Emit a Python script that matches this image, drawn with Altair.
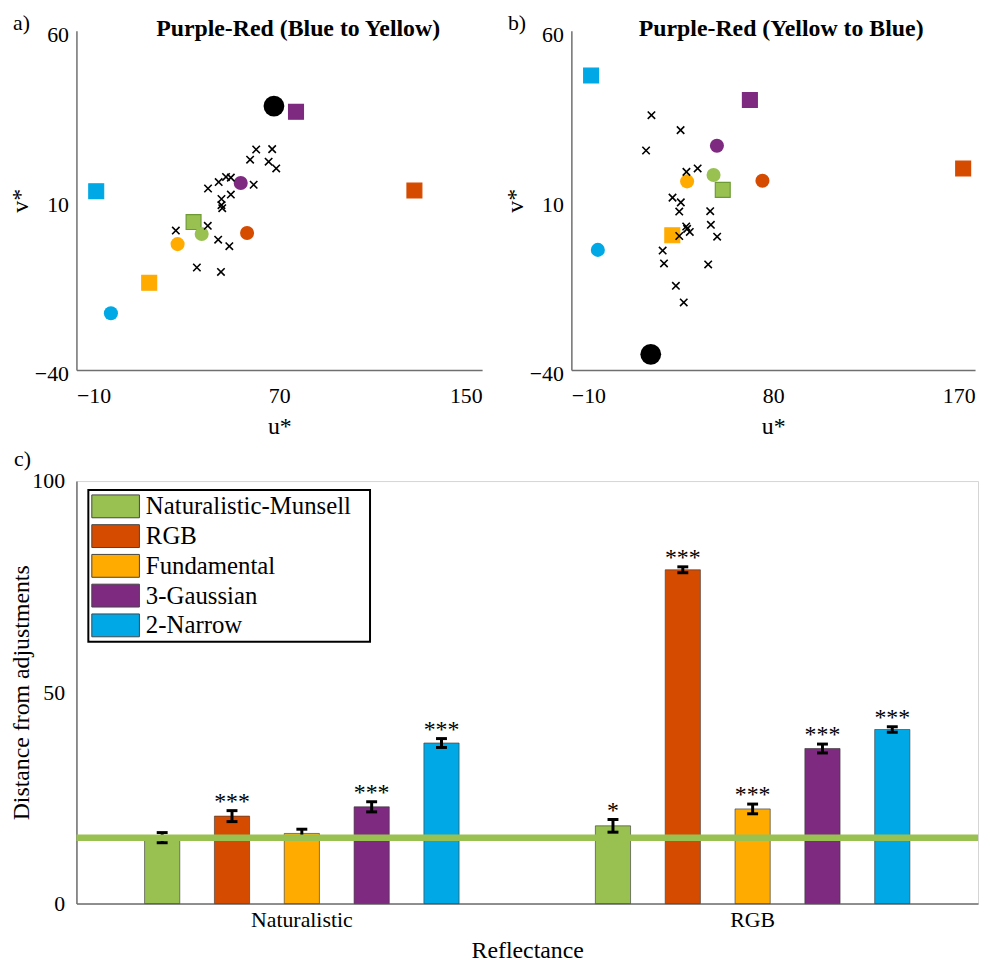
import altair as alt
import pandas as pd

FONT = "Liberation Serif"

MODELS = ["Naturalistic-Munsell", "RGB", "Fundamental", "3-Gaussian", "2-Narrow"]
COLORS = ["#99C152", "#D54B00", "#FFAB00", "#7E2A80", "#00A8E6"]
EDGES = ["#6E9A34", "#D54B00", "#FFAB00", "#7E2A80", "#00A8E6"]

# ---------------- panel a : Purple-Red (Blue to Yellow) ----------------
A_CIRCLE_U = [39.4, 57.3, 29.9, 54.8, 3.6]
A_CIRCLE_V = [0.1, 0.4, -2.9, 15.1, -23.3]
A_SQUARE_U = [36.2, 123.3, 18.7, 76.6, -2.2]
A_SQUARE_V = [3.6, 12.9, -14.3, 36.1, 12.7]
A_BLACK_U = [67.9]
A_BLACK_V = [37.8]
A_CROSS_U = [60.9, 67.2, 58.5, 65.8, 68.8, 49.0, 50.9, 46.1, 41.9, 59.9,
             50.9, 47.2, 47.2, 47.5, 29.2, 41.8, 45.9, 50.3, 37.5, 47.0]
A_CROSS_V = [25.0, 25.1, 22.0, 21.4, 19.4, 16.9, 16.7, 15.4, 13.5, 14.6,
             11.7, 10.4, 8.6, 7.7, 1.1, 2.5, -1.6, -3.5, -9.8, -11.1]

# ---------------- panel b : Purple-Red (Yellow to Blue) ----------------
B_CIRCLE_U = [53.4, 75.2, 41.6, 54.9, 1.8]
B_CIRCLE_V = [17.5, 15.8, 15.6, 26.1, -4.6]
B_SQUARE_U = [57.5, 164.7, 35.0, 69.6, -1.2]
B_SQUARE_V = [13.1, 19.4, -0.3, 39.6, 46.8]
B_BLACK_U = [25.4]
B_BLACK_V = [-35.4]
B_CROSS_U = [25.7, 38.7, 23.3, 41.3, 46.3, 35.1, 38.8, 38.1, 51.9, 52.2,
             41.2, 41.6, 42.8, 38.1, 55.0, 30.7, 31.3, 51.0, 36.6, 40.1]
B_CROSS_V = [35.1, 30.7, 24.7, 18.4, 19.4, 10.8, 9.4, 6.7, 6.8, 2.8,
             2.3, 1.6, 0.7, -0.5, -0.7, -4.8, -8.6, -8.9, -15.2, -20.1]

V_TICKS = [-40, 10, 60]
A_U_TICKS = [-10, 70, 150]
B_U_TICKS = [-10, 80, 170]

# ---------------- panel c : bars ----------------
GROUPS = ["Naturalistic", "RGB"]
NAT_MEAN = [15.6, 20.7, 16.6, 22.9, 38.0]
NAT_ERR = [1.2, 1.3, 1.0, 1.2, 1.05]
NAT_STARS = ["", "***", "", "***", "***"]
RGB_MEAN = [18.4, 79.0, 22.4, 36.7, 41.2]
RGB_ERR = [1.5, 0.7, 1.15, 1.05, 0.65]
RGB_STARS = ["*", "***", "***", "***", "***"]
REF_LINE = [15.6]
C_TICKS = [0, 50, 100]

AX_GRAY = "#6f6f6f"


def scatter_panel(cu, cv, su, sv, bu, bv, xu, xv, uticks, title, tdx, letter, width):
    circ = pd.DataFrame({"model": MODELS, "u": cu, "v": cv})
    sq = pd.DataFrame({"model": MODELS, "u": su, "v": sv})
    blk = pd.DataFrame({"u": bu, "v": bv})
    crs = pd.DataFrame({"u": xu, "v": xv})
    lab = pd.DataFrame({"t": [letter]})

    xenc = alt.X("u:Q",
                 scale=alt.Scale(domain=[uticks[0], uticks[-1]], nice=False, zero=False),
                 axis=alt.Axis(values=uticks, title="u*", labelFlush=True,
                               labelPadding=16, titlePadding=8))
    yenc = alt.Y("v:Q",
                 scale=alt.Scale(domain=[V_TICKS[0], V_TICKS[-1]], nice=False, zero=False),
                 axis=alt.Axis(values=V_TICKS, title="v*", labelOffset=4,
                               labelPadding=8, titlePadding=2))
    fill = alt.Fill("model:N", scale=alt.Scale(domain=MODELS, range=COLORS), legend=None)
    stroke = alt.Stroke("model:N", scale=alt.Scale(domain=MODELS, range=EDGES), legend=None)

    squares = alt.Chart(sq).mark_square(size=225, filled=True, opacity=1,
                                        strokeWidth=1.2).encode(
        x=xenc, y=yenc, fill=fill, stroke=stroke)
    circles = alt.Chart(circ).mark_circle(size=201, opacity=1).encode(
        x=xenc, y=yenc, fill=fill)
    black = alt.Chart(blk).mark_circle(size=440, opacity=1, color="black").encode(
        x=xenc, y=yenc)
    crosses = alt.Chart(crs).mark_point(shape="M-1,-1L1,1M-1,1L1,-1", size=56,
                                        filled=False, color="black",
                                        strokeWidth=1.6, opacity=1).encode(
        x=xenc, y=yenc)
    letter_mark = alt.Chart(lab).mark_text(align="left", baseline="alphabetic",
                                           fontSize=22, font=FONT, color="black").encode(
        x=alt.value(-64), y=alt.value(-1), text="t:N")

    return alt.layer(squares, circles, black, crosses, letter_mark).properties(
        width=width, height=342,
        title=alt.TitleParams(title, fontSize=24, font=FONT, fontWeight="bold",
                              baseline="alphabetic", offset=-48, dx=tdx,
                              frame="group", color="black"))


panel_a = scatter_panel(A_CIRCLE_U, A_CIRCLE_V, A_SQUARE_U, A_SQUARE_V,
                        A_BLACK_U, A_BLACK_V, A_CROSS_U, A_CROSS_V,
                        A_U_TICKS, "Purple-Red (Blue to Yellow)", 19, "a)", 409)
panel_b = scatter_panel(B_CIRCLE_U, B_CIRCLE_V, B_SQUARE_U, B_SQUARE_V,
                        B_BLACK_U, B_BLACK_V, B_CROSS_U, B_CROSS_V,
                        B_U_TICKS, "Purple-Red (Yellow to Blue)", 8, "b)", 407)

# ---- panel c data
rows = []
for g, means, errs, stars in [(GROUPS[0], NAT_MEAN, NAT_ERR, NAT_STARS),
                              (GROUPS[1], RGB_MEAN, RGB_ERR, RGB_STARS)]:
    for m, mu, e, s in zip(MODELS, means, errs, stars):
        rows.append({"group": g, "model": m, "mean": mu, "err": e, "stars": s})
bars_df = pd.DataFrame(rows)

cx = alt.X("group:N", sort=GROUPS,
           scale=alt.Scale(paddingInner=0, paddingOuter=0),
           axis=alt.Axis(title="Reflectance", labelAngle=0, labelPadding=6,
                         titlePadding=8))
cxo = alt.XOffset("model:N", sort=MODELS,
                  scale=alt.Scale(paddingInner=0.496, paddingOuter=0.976))
cy_scale = alt.Scale(domain=[C_TICKS[0], C_TICKS[-1]], nice=False, zero=True)

base = alt.Chart(bars_df).transform_calculate(
    lo="datum.mean - datum.err", hi="datum.mean + datum.err")

bars = base.mark_bar(stroke="#3a3a3a", strokeWidth=0.8, strokeOpacity=0.8).encode(
    x=cx, xOffset=cxo,
    y=alt.Y("mean:Q", scale=cy_scale,
            axis=alt.Axis(values=C_TICKS, title="Distance from adjustments",
                          labelPadding=12, titlePadding=-2)),
    fill=alt.Fill("model:N", sort=MODELS,
                  scale=alt.Scale(domain=MODELS, range=COLORS),
                  legend=alt.Legend(orient="none", legendX=12, legendY=9, title=None,
                                    symbolType="M-2,-0.96H2V0.96H-2Z", symbolSize=576,
                                    symbolOffset=11, labelOffset=18, padding=4,
                                    rowPadding=1, symbolStrokeColor="#444444",
                                    symbolStrokeWidth=1, symbolOpacity=1,
                                    labelFont=FONT, labelFontSize=25,
                                    labelColor="black", labelLimit=400,
                                    strokeColor="transparent",
                                    fillColor="transparent")))
# frame drawn behind the legend entries
legend_box = alt.Chart(pd.DataFrame({"k": [0]})).mark_rect(
    fill="white", stroke="black", strokeWidth=2).encode(
    x=alt.value(12), x2=alt.value(296), y=alt.value(9), y2=alt.value(162))
stems = base.mark_rule(strokeWidth=3, color="black").encode(
    x=cx, xOffset=cxo, y=alt.Y("lo:Q", scale=cy_scale), y2="hi:Q")
cap_lo = base.mark_tick(thickness=3, size=11, color="black", opacity=1).encode(
    x=cx, xOffset=cxo, y=alt.Y("lo:Q", scale=cy_scale))
cap_hi = base.mark_tick(thickness=3, size=11, color="black", opacity=1).encode(
    x=cx, xOffset=cxo, y=alt.Y("hi:Q", scale=cy_scale))
ref = alt.Chart(pd.DataFrame({"ref": REF_LINE})).mark_rule(
    strokeWidth=6.5, color=COLORS[0]).encode(y=alt.Y("ref:Q", scale=cy_scale))
stars = base.mark_text(fontSize=24, font=FONT, baseline="alphabetic", dy=-2,
                       color="black").encode(
    x=cx, xOffset=cxo, y=alt.Y("hi:Q", scale=cy_scale), text="stars:N")
c_letter = alt.Chart(pd.DataFrame({"t": ["c)"]})).mark_text(
    align="left", baseline="alphabetic", fontSize=22, font=FONT, color="black").encode(
    x=alt.value(-63), y=alt.value(-15), text="t:N")

panel_c = alt.layer(bars, stems, cap_lo, cap_hi, ref, stars, legend_box,
                    c_letter).properties(
    width=909, height=426, view=alt.ViewBackground(stroke="#d4d4d4"))

top = alt.hconcat(panel_a, panel_b, spacing=90, bounds="flush")
chart = alt.vconcat(top, panel_c, spacing=9).resolve_scale(
    fill="independent", stroke="independent").properties(
    padding={"left": 0, "top": 0, "right": 0, "bottom": 0}).configure_view(
    stroke=None).configure_axis(
    grid=False, ticks=False, domainColor=AX_GRAY, domainWidth=1.5,
    labelFont=FONT, labelFontSize=22, labelColor="black",
    titleFont=FONT, titleFontSize=24, titleFontWeight="normal", titleColor="black"
).configure_legend(strokeWidth=2)

chart.save("out.html", embed_options={"renderer": "svg", "actions": False})
